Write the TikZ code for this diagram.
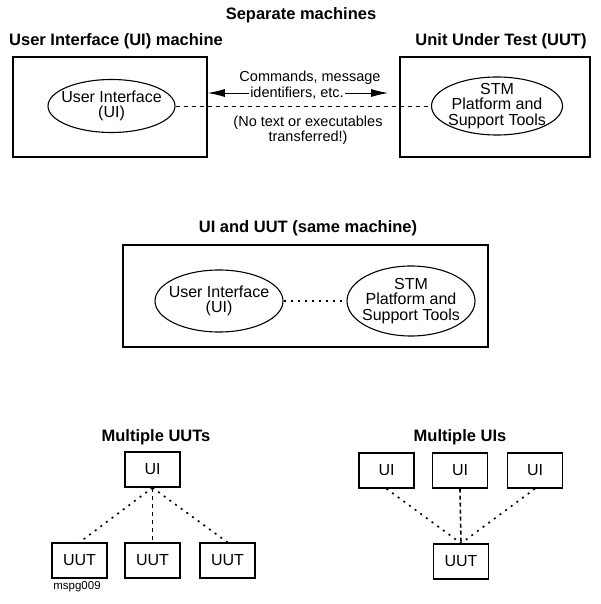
\documentclass[tikz,border=0pt]{standalone}
\usepackage{fontspec}
\setmainfont{Liberation Sans}
\usetikzlibrary{shapes.geometric,arrows.meta}

\tikzset{
  mbox/.style={draw,line width=1.6pt,inner sep=0pt},
  ell/.style={draw,ellipse,line width=1.1pt,inner sep=0pt},
  unit/.style={draw,line width=1.4pt,minimum width=55pt,minimum height=35pt,font=\fontsize{16}{16}\selectfont},
  ttl/.style={font=\fontsize{16.5}{18}\selectfont\bfseries},
  txt/.style={align=center,font=\fontsize{16}{15.5}\selectfont,inner sep=0pt},
  small/.style={align=center,font=\fontsize{14.5}{15.5}\selectfont,inner sep=1pt},
  dashl/.style={dash pattern=on 4pt off 4pt,line width=0.8pt},
  dotl/.style={dash pattern=on 2pt off 5pt,line width=1.6pt},
  tip/.style={-{Latex[length=17pt,width=8pt]},line width=0.8pt},
}

\begin{document}
\begin{tikzpicture}[x=1pt,y=-1pt]
\useasboundingbox (0,0) rectangle (601,604);
% separate machines
\node[ttl] (sep) at (301,15) {Separate machines};
\node[ttl] (uihd) at (116,41) {User Interface (UI) machine};
\node[ttl] (uuthd) at (501,41) {Unit Under Test (UUT)};
\node[mbox,minimum width=194pt,minimum height=100pt] (uimach) at (110,107) {};
\node[mbox,minimum width=190pt,minimum height=100pt] (uutmach) at (495,107) {};
\node[ell,minimum width=127pt,minimum height=53pt] (ui) at (111.5,106) {};
\node[txt] (uitxt) at (ui) {User Interface\\(UI)};
\node[ell,minimum width=131pt,minimum height=58pt] (stm) at (497,106) {};
\node[txt] (stmtxt) at (stm) {STM\\Platform and\\Support Tools};
\draw[dashl] (ui.east) -- (stm.west);

\node[small] (cmd) at (310,78) {Commands, message};
\node[small] (ident) at (297,93) {identifiers, etc.};
\node[small] (notx) at (308,130) {(No text or executables\\transferred!)};
\coordinate (rtip) at (388,93);
\draw[tip] (ident.west) -- (ident.west -| uimach.east);
\draw[tip] (ident.east) -- (rtip);

% same machine
\node[ttl] (same) at (308,228) {UI and UUT (same machine)};
\node[mbox,minimum width=365pt,minimum height=102pt] (mach) at (305.5,296) {};
\node[ell,minimum width=128pt,minimum height=62pt] (ui2) at (219,301) {};
\node[txt] (ui2txt) at (ui2) {User Interface\\(UI)};
\node[ell,minimum width=128pt,minimum height=70pt] (stm2) at (411,301) {};
\node[txt] (stm2txt) at (stm2) {STM\\Platform and\\Support Tools};
\draw[dotl] (ui2.east) -- (stm2.west);

% multiple UUTs
\node[ttl] (muuts) at (156,437) {Multiple UUTs};
\node[unit] (u0) at (152.5,469.5) {UI};
\foreach \x/\n in {79.5/1,152.5/2,227.5/3}
  \node[unit] (t\n) at (\x,560.5) {UUT};
\node[font=\fontsize{11.5}{12}\selectfont] (id) at (77,587) {mspg009};
\draw[dotl] (u0.south) -- (t1.north);
\draw[dashl] (u0.south) -- (t2.north);
\draw[dotl] (u0.south) -- (t3.north);

% multiple UIs
\node[ttl] (muis) at (460,437) {Multiple UIs};
\foreach \x/\n in {386.5/1,460/2,535/3}
  \node[unit] (v\n) at (\x,470.5) {UI};
\node[unit] (w0) at (461,561.5) {UUT};
\draw[dotl] (v1.south) -- (w0.north);
\draw[dotl,dash pattern=on 4pt off 3pt] (v2.south) -- (w0.north);
\draw[dotl] (v3.south) -- (w0.north);
\end{tikzpicture}
\end{document}
